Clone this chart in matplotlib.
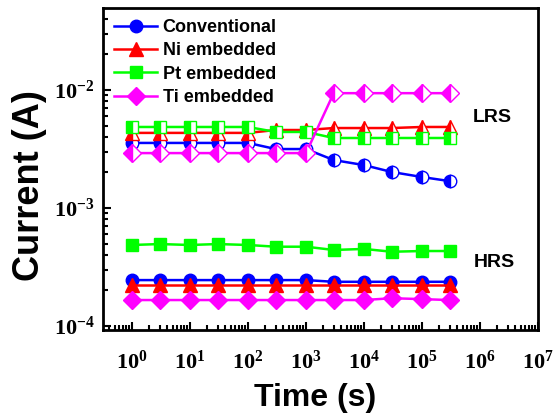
import matplotlib
matplotlib.use('Agg')
import matplotlib.pyplot as plt
from matplotlib.ticker import FixedLocator, FixedFormatter, LogLocator, NullFormatter

plt.rcParams['font.family'] = 'Liberation Sans'
plt.rcParams['font.weight'] = 'bold'
plt.rcParams['mathtext.fontset'] = 'custom'
plt.rcParams['mathtext.bf'] = 'Liberation Serif:bold'
plt.rcParams['mathtext.rm'] = 'Liberation Serif:bold'

time = [1, 3, 10, 30, 100, 300, 1e3, 3e3, 1e4, 3e4, 1e5, 3e5]

# LRS (half filled markers)
conv_lrs = [3.56e-3, 3.56e-3, 3.56e-3, 3.56e-3, 3.56e-3, 3.16e-3, 3.16e-3,
            2.55e-3, 2.31e-3, 2.02e-3, 1.83e-3, 1.69e-3]
ni_lrs = [4.33e-3, 4.33e-3, 4.33e-3, 4.33e-3, 4.33e-3, 4.58e-3, 4.58e-3,
          4.76e-3, 4.76e-3, 4.76e-3, 4.86e-3, 4.86e-3]
pt_lrs = [4.86e-3, 4.86e-3, 4.86e-3, 4.86e-3, 4.86e-3, 4.41e-3, 4.41e-3,
          3.92e-3, 3.92e-3, 3.92e-3, 3.92e-3, 3.92e-3]
ti_lrs = [2.92e-3, 2.92e-3, 2.92e-3, 2.92e-3, 2.92e-3, 2.92e-3, 2.92e-3,
          9.4e-3, 9.4e-3, 9.4e-3, 9.4e-3, 9.4e-3]

# HRS (solid markers)
conv_hrs = [2.45e-4, 2.45e-4, 2.45e-4, 2.45e-4, 2.45e-4, 2.45e-4, 2.45e-4,
            2.37e-4, 2.37e-4, 2.37e-4, 2.37e-4, 2.37e-4]
ni_hrs = [2.22e-4] * 12
pt_hrs = [4.86e-4, 4.95e-4, 4.86e-4, 4.95e-4, 4.86e-4, 4.70e-4, 4.70e-4,
          4.41e-4, 4.50e-4, 4.26e-4, 4.32e-4, 4.32e-4]
ti_hrs = [1.66e-4, 1.66e-4, 1.66e-4, 1.66e-4, 1.66e-4, 1.66e-4, 1.66e-4,
          1.66e-4, 1.66e-4, 1.72e-4, 1.69e-4, 1.66e-4]

labels = ['Conventional', 'Ni embedded', 'Pt embedded', 'Ti embedded']
colors = ['#0000ff', '#ff0000', '#00ff00', '#ff00ff']
markers = ['o', '^', 's', 'D']
sizes = [9, 10, 8.5, 8.8]

x_ticks = [1, 10, 100, 1e3, 1e4, 1e5, 1e6, 1e7]
x_ticklabels = [r'$\mathbf{10^{%d}}$' % i for i in range(8)]
y_ticks = [1e-4, 1e-3, 1e-2]
y_ticklabels = [r'$\mathbf{10^{-4}}$', r'$\mathbf{10^{-3}}$', r'$\mathbf{10^{-2}}$']

fig = plt.figure(figsize=(5.58, 4.16), dpi=100)
ax = fig.add_axes([0.1846, 0.2067, 0.7796, 0.774])

for hrs, lab, c, m, s in zip([conv_hrs, ni_hrs, pt_hrs, ti_hrs], labels, colors, markers, sizes):
    ax.plot(time, hrs, color=c, marker=m, markersize=s, linewidth=1.8,
            markeredgecolor=c, label=lab)
for lrs, c, m, s in zip([conv_lrs, ni_lrs, pt_lrs, ti_lrs], colors, markers, sizes):
    ax.plot(time, lrs, color=c, marker=m, markersize=s, linewidth=1.8,
            fillstyle='left', markerfacecoloralt='white', markeredgecolor=c)

ax.set_xscale('log')
ax.set_yscale('log')
ax.set_xlim(10 ** -0.5, 1e7)
ax.set_ylim(9.25e-5, 4.95e-2)

ax.xaxis.set_major_locator(FixedLocator(x_ticks))
ax.xaxis.set_major_formatter(FixedFormatter(x_ticklabels))
ax.xaxis.set_minor_locator(LogLocator(base=10, subs=range(2, 10), numticks=20))
ax.xaxis.set_minor_formatter(NullFormatter())
ax.yaxis.set_major_locator(FixedLocator(y_ticks))
ax.yaxis.set_major_formatter(FixedFormatter(y_ticklabels))
ax.yaxis.set_minor_locator(LogLocator(base=10, subs=range(2, 10), numticks=20))
ax.yaxis.set_minor_formatter(NullFormatter())

ax.tick_params(which='both', direction='in', top=False, right=False, width=1.5)
ax.tick_params(which='major', length=6, labelsize=16)
ax.tick_params(axis='x', which='major', pad=15)
ax.tick_params(axis='y', which='major', pad=6)
ax.tick_params(which='minor', length=3.5)
for sp in ax.spines.values():
    sp.set_linewidth(2)

ax.set_xlabel('Time (s)', fontsize=23, fontweight='bold')
ax.set_ylabel('Current (A)', fontsize=26, fontweight='bold')
ax.xaxis.set_label_coords(0.487, -0.165)
ax.yaxis.set_label_coords(-0.128, 0.45)

ax.text(1.6e6, 5.8e-3, 'LRS', fontsize=14, fontweight='bold', ha='center', va='center')
ax.text(1.75e6, 3.42e-4, 'HRS', fontsize=14, fontweight='bold', ha='center', va='center')

ax.legend(loc='upper left', frameon=False, fontsize=13, handlelength=2.4,
          handletextpad=0.3, labelspacing=0.35, borderaxespad=0.2)

fig.savefig('out.png', dpi=100)
